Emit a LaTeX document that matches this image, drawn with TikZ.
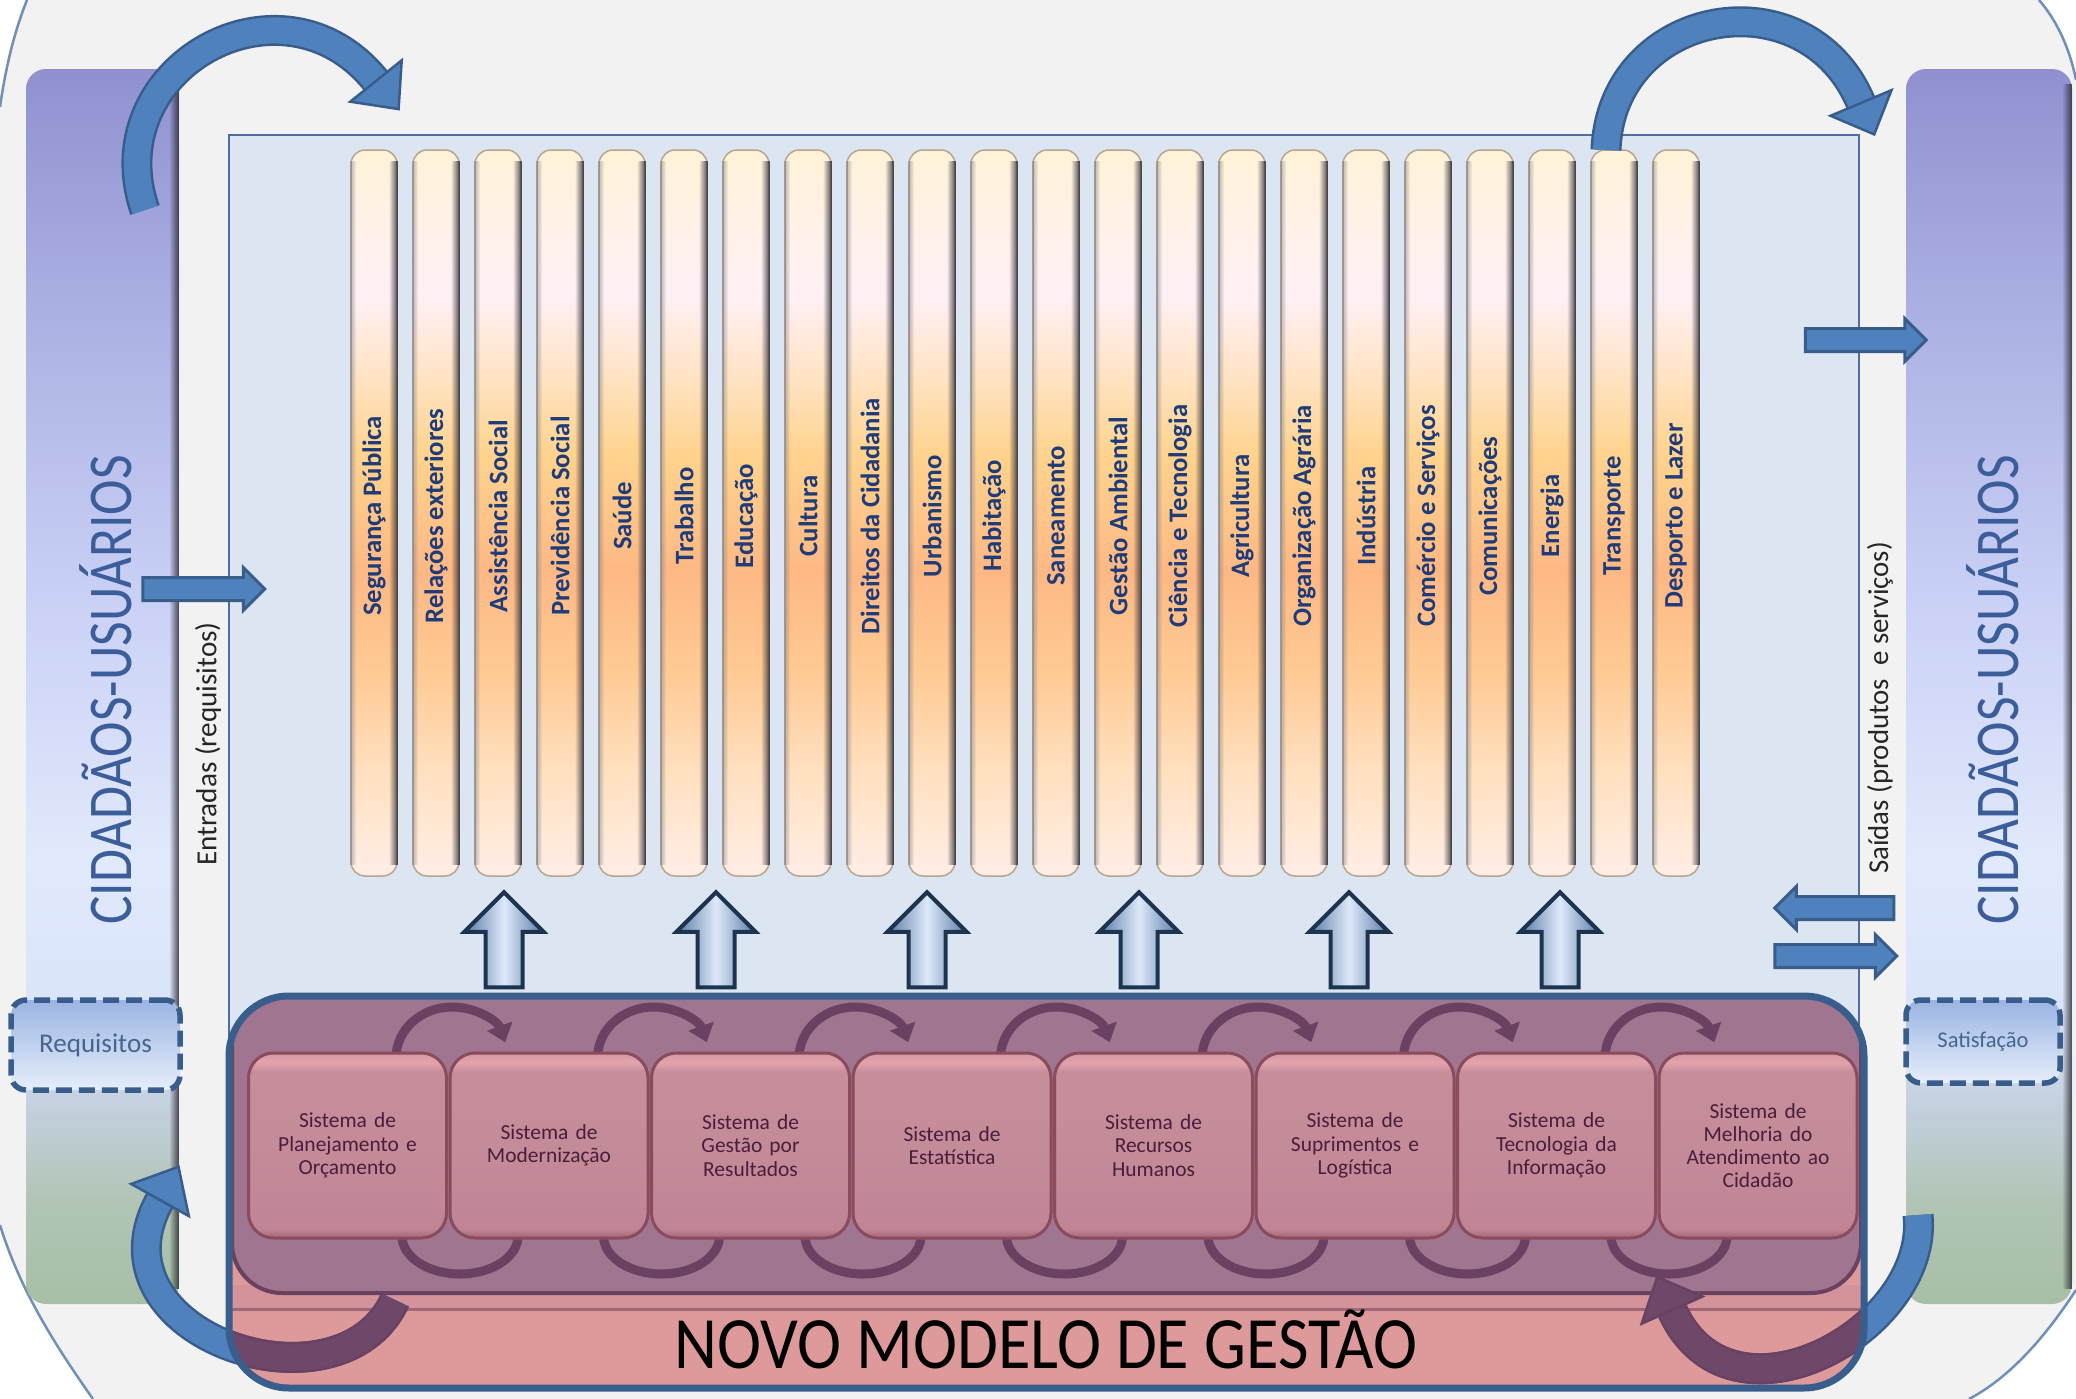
\documentclass[tikz,border=0pt]{standalone}
\usepackage{fontspec}
\setmainfont{Carlito}
\newfontfamily\estreita[FakeStretch=0.86]{Carlito}
\newfontfamily\titulofont[FakeStretch=0.9]{Carlito}
\usetikzlibrary{calc,arrows.meta,shapes.arrows,fadings}

\definecolor{fundo}{HTML}{F2F2F2}
\definecolor{contorno}{HTML}{7090B8}
\definecolor{campo}{HTML}{DCE6F2}
\definecolor{campoborda}{HTML}{4F6E9E}
\definecolor{setaazul}{HTML}{4F81BD}
\definecolor{setaborda}{HTML}{385D8A}
\definecolor{sobeborda}{HTML}{1C3450}
\definecolor{sobelado}{HTML}{5B7BA5}
\definecolor{sobemeio}{HTML}{DDE9F9}
\definecolor{pilarborda}{HTML}{B9A58E}
\definecolor{sombra}{HTML}{2B2A33}
\definecolor{textoazul}{HTML}{1F3B78}
\definecolor{cidadao}{HTML}{3B5E9B}
\definecolor{rosa}{HTML}{DE9A9A}
\definecolor{faixa}{HTML}{D4939B}
\definecolor{malva}{HTML}{A07590}
\definecolor{malvaesc}{HTML}{6B4162}
\definecolor{malvaseta}{HTML}{6E4868}
\definecolor{linharosa}{HTML}{9E6676}
\definecolor{caixaborda}{HTML}{8A4B5D}
\definecolor{caixatexto}{HTML}{4A1D3C}
\definecolor{novoborda}{HTML}{395E8B}
\definecolor{tracoalto}{HTML}{9BB4E2}
\definecolor{tracobaixo}{HTML}{E6EEFB}
\definecolor{tracotexto}{HTML}{46658F}
% shading colours
\definecolor{pA}{HTML}{A8BFA6}\definecolor{pB}{HTML}{B0C4B4}
\definecolor{pC}{HTML}{C4D0DE}\definecolor{pD}{HTML}{DAE5F9}
\definecolor{pE}{HTML}{E1E9FC}\definecolor{pF}{HTML}{CBD2F6}
\definecolor{pG}{HTML}{A9AEE1}\definecolor{pH}{HTML}{9090D0}
\definecolor{qA}{HTML}{FFEDE6}\definecolor{qB}{HTML}{FFE2C4}
\definecolor{qC}{HTML}{FFCA94}\definecolor{qD}{HTML}{FDB884}
\definecolor{qE}{HTML}{FFD38E}\definecolor{qF}{HTML}{FFE2C0}
\definecolor{qG}{HTML}{FFF0F6}\definecolor{qH}{HTML}{FFF2D8}
\definecolor{cA}{HTML}{A66676}\definecolor{cB}{HTML}{C08595}
\definecolor{cC}{HTML}{C48B99}\definecolor{cD}{HTML}{C68E9B}
\definecolor{cE}{HTML}{E2A4AB}\definecolor{cF}{HTML}{D697A1}

\pgfdeclareverticalshading{painel}{100bp}{color(0bp)=(pA); color(25bp)=(pA); color(29bp)=(pB); color(33bp)=(pC); color(37bp)=(pD); color(43bp)=(pE); color(53bp)=(pF); color(66bp)=(pG); color(75bp)=(pH); color(100bp)=(pH)}
\pgfdeclareverticalshading{pilar}{100bp}{color(0bp)=(qA); color(25bp)=(qA); color(31.5bp)=(qB); color(39bp)=(qC); color(46bp)=(qD); color(54bp)=(qE); color(59bp)=(qF); color(65bp)=(qG); color(75bp)=(qH); color(100bp)=(qH)}
\pgfdeclareverticalshading{caixa}{100bp}{color(0bp)=(cA); color(25bp)=(cA); color(27.5bp)=(cB); color(50bp)=(cC); color(70bp)=(cD); color(72.5bp)=(cE); color(75bp)=(cF); color(100bp)=(cF)}

\tikzfading[name=escurece, left color=transparent!100, right color=transparent!15]
\tikzfading[name=clareia, left color=transparent!45, right color=transparent!100]

\tikzset{
  painel/.style={rounded corners=2mm, shading=painel, inner sep=0pt, outer sep=0pt},
  pilar/.style={rounded corners=1.4mm, shading=pilar, draw=pilarborda, line width=0.15mm,
    minimum width=4.6mm, minimum height=72.6mm, inner sep=0pt},
  rotulo/.style={rotate=90, font=\fontsize{7.6}{9}\selectfont\bfseries, text=textoazul, inner sep=0pt},
  seta/.style={single arrow, fill=setaazul, draw=setaborda, line width=0.3mm, minimum width=4mm,
    single arrow head extend=1mm, inner sep=1mm},
  sobe/.style={single arrow, shape border rotate=90, minimum height=9.5mm, minimum width=7.7mm,
    single arrow head extend=2.1mm, inner sep=1.65mm, draw=sobeborda, line width=0.4mm,
    left color=sobelado, right color=sobelado, middle color=sobemeio},
  sistema/.style={rounded corners=2.5mm, shading=caixa, draw=caixaborda, line width=0.3mm,
    minimum width=19.8mm, minimum height=18.5mm, text width=18mm, align=center, inner sep=0pt,
    font=\fontsize{6.1}{6.6}\selectfont, text=caixatexto},
  novobox/.style={rounded corners=6mm, fill=rosa, minimum width=163.5mm, minimum height=39.2mm,
    inner sep=0pt, outer sep=0pt},
  giro/.style={draw=malvaesc, line width=0.9mm},
  tracejado/.style={rounded corners=1.5mm, draw=setaborda, line width=0.55mm,
    dash pattern=on 1.6mm off 0.7mm, top color=tracoalto, bottom color=tracobaixo,
    text=tracotexto, inner sep=0pt},
  grossa/.style 2 args={draw=#1, line width=2.6mm, preaction={draw=#2, line width=3.1mm}},
  ponta/.style 2 args={fill=#1, draw=#2, line width=0.25mm, line join=miter},
}
% head of a curved arrow: base, tip, fill, border
\newcommand{\cabeca}[4]{\path[ponta={#3}{#4}] ($(#1)!3.3mm!90:(#2)$) -- (#2) -- ($(#1)!3.3mm!-90:(#2)$) -- cycle;}

\begin{document}
\begin{tikzpicture}[x=0.1mm, y=-0.1mm]
  \useasboundingbox (0,0) rectangle (2076,1399);
  \fill[white] (0,0) rectangle (2076,1399);
  \fill[fundo] (27,0) -- (2039,0) .. controls (2058,22) and (2070,50) .. (2076,80)
    -- (2076,1290) .. controls (2040,1345) and (2005,1380) .. (1969,1399)
    -- (93,1399) .. controls (55,1345) and (20,1290) .. (0,1225)
    -- (0,107) .. controls (6,65) and (15,30) .. (27,0) -- cycle;
  \draw[contorno, line width=0.25mm] (0,107) .. controls (6,65) and (15,30) .. (27,0);
  \draw[contorno, line width=0.25mm] (2039,0) .. controls (2058,22) and (2070,50) .. (2076,80);
  \draw[contorno, line width=0.25mm] (2076,1290) .. controls (2040,1345) and (2005,1380) .. (1969,1399);
  \draw[contorno, line width=0.25mm] (93,1399) .. controls (55,1345) and (20,1290) .. (0,1225);

  % citizens
  \node[painel, minimum width=15.3mm, minimum height=123.5mm] (cidL) at (102.5,686.5) {};
  \node[painel, minimum width=16.6mm, minimum height=123.5mm] (cidR) at (1989,686.5) {};
  \fill[sombra, path fading=escurece] ($(cidL.north east)+(-10,15)$) rectangle ($(cidL.south east)+(0,-15)$);
  \fill[sombra, path fading=escurece] ($(cidR.north east)+(-10,15)$) rectangle ($(cidR.south east)+(0,-15)$);
  \node[rotate=90, text=cidadao, font=\estreita\fontsize{17.7}{20}\selectfont] (cidLtxt) at (106,690) {CIDADÃOS-USUÁRIOS};
  \node[rotate=90, text=cidadao, font=\estreita\fontsize{17.7}{20}\selectfont] (cidRtxt) at (1993,690) {CIDADÃOS-USUÁRIOS};

  % field of the public functions
  \draw[campoborda, fill=campo, line width=0.25mm] (229,135) rectangle (1859,1300);
  \foreach \nome [count=\i from 0] in {Segurança Pública, Relações exteriores, Assistência Social,
      Previdência Social, Saúde, Trabalho, Educação, Cultura, Direitos da Cidadania, Urbanismo,
      Habitação, Saneamento, Gestão Ambiental, Ciência e Tecnologia, Agricultura,
      Organização Agrária, Indústria, Comércio e Serviços, Comunicações, Energia, Transporte,
      Desporto e Lazer} {
    \node[pilar] (col\i) at ({374+62*\i},513) {};
    \fill[sombra, path fading=escurece] ($(col\i.north east)+(-9,12)$) rectangle ($(col\i.south east)+(0,-12)$);
    \fill[sombra!60, path fading=clareia] ($(col\i.north west)+(0,12)$) rectangle ($(col\i.south west)+(6,-12)$);
    \node[rotulo] (rot\i) at ($(col\i)+(0,3)$) {\nome};
  }
  \foreach \x [count=\k] in {504,716,927,1139,1349,1560}
    \node[sobe] (sobe\k) at (\x,949) {};

  % inputs and outputs
  \node[seta, minimum height=12.2mm] (entra) at (198,589) {};
  \node[seta, minimum height=12.1mm] (sai) at (1860,340) {};
  \node[seta, minimum height=11.9mm, shape border rotate=180] (volta) at (1840,908) {};
  \node[seta, minimum height=12.2mm] (entrega) at (1830,956) {};
  \node[rotate=90, font=\fontsize{8.3}{10}\selectfont, text=black!85] (entradas) at (208,744) {Entradas (requisitos)};
  \node[rotate=90, font=\fontsize{8.2}{10}\selectfont, text=black!85] (saidas) at (1880,708) {Saídas (produtos\ \ e serviços)};

  % management model
  \node[novobox] (novo) at (1046.5,1192) {};
  \begin{scope}
    \clip[rounded corners=6mm] (novo.south west) rectangle (novo.north east);
    \fill[faixa] (229,1285) rectangle (1864,1309);
    \fill[malva, rounded corners=5mm] (232,975) rectangle (1861,1293);
    \draw[malvaesc, line width=0.4mm, rounded corners=5mm] (232,975) rectangle (1861,1293);
    \draw[linharosa, line width=0.3mm] (229,1309) -- (1864,1309);
  \end{scope}
  \foreach \i in {0,...,6} {
    \pgfmathsetmacro{\bx}{452+201.5*\i}
    \draw[giro, -{Triangle[length=1.7mm, width=2.6mm]}] ({\bx-56},1058)
      arc[start angle=180, end angle=18, x radius=5.6mm, y radius=5.1mm];
    \draw[giro] ({\bx-50},1236) arc[start angle=180, end angle=360, x radius=5.8mm, y radius=3.8mm];
  }
  \foreach \txt [count=\i from 0] in {{Sistema de\\Planejamento e\\Orçamento}, {Sistema de\\Modernização},
      {Sistema de\\Gestão por\\Resultados}, {Sistema de\\Estatística}, {Sistema de\\Recursos\\Humanos},
      {Sistema de\\Suprimentos e\\Logística}, {Sistema de\\Tecnologia da\\Informação},
      {Sistema de\\Melhoria do\\Atendimento ao\\Cidadão}}
    \node[sistema] (sis\i) at ({347.5+201.5*\i},1145.5) {\txt};
  \node[anchor=base, font=\titulofont\fontsize{21}{24}\selectfont] (titulo) at (1046,1368) {NOVO MODELO DE GESTÃO};

  % requirements and satisfaction
  \node[tracejado, minimum width=16.9mm, minimum height=9mm, font=\fontsize{7.7}{9}\selectfont] (req) at (95.5,1045) {Requisitos};
  \node[tracejado, minimum width=15.4mm, minimum height=8.3mm, font=\fontsize{6.4}{8}\selectfont] (sat) at (1983,1041.5) {Satisfação};

  % curved arrows
  \coordinate (aeA) at (145,210);  \coordinate (aeB) at (376,81);   \coordinate (aeT) at (398.6,109.1);
  \coordinate (adA) at (1606,150); \coordinate (adB) at (1861,103); \coordinate (adT) at (1874.2,134.4);
  \coordinate (beA) at (395,1300); \coordinate (beB) at (160,1200); \coordinate (beT) at (178.5,1166.8);
  \coordinate (bdA) at (1918,1215); \coordinate (bdB) at (1672,1310); \coordinate (bdT) at (1657.3,1277.1);
  \draw[grossa={setaazul}{setaborda}] (aeA) .. controls (96,68) and (282,-36) .. (aeB);
  \cabeca{aeB}{aeT}{setaazul}{setaborda}
  \draw[grossa={setaazul}{setaborda}] (adA) .. controls (1611,8) and (1806,-28) .. (adB);
  \cabeca{adB}{adT}{setaazul}{setaborda}
  \draw[grossa={setaazul}{setaborda}] (beA) .. controls (340,1420) and (85,1335) .. (beB);
  \cabeca{beB}{beT}{setaazul}{setaborda}
  \draw[grossa={setaazul}{setaborda}] (bdA) .. controls (1930,1330) and (1730,1440) .. (bdB);
  \cabeca{bdB}{bdT}{setaazul}{setaborda}
  \begin{scope}
    \clip[rounded corners=6mm] (novo.south west) rectangle (novo.north east);
    \draw[grossa={malvaseta}{malvaesc}] (beA) .. controls (340,1420) and (85,1335) .. (beB);
    \draw[grossa={malvaseta}{malvaesc}] (bdA) .. controls (1930,1330) and (1730,1440) .. (bdB);
    \cabeca{bdB}{bdT}{malvaseta}{malvaesc}
  \end{scope}
  \draw[novoborda, line width=0.7mm, rounded corners=6mm] (novo.south west) rectangle (novo.north east);
\end{tikzpicture}
\end{document}
